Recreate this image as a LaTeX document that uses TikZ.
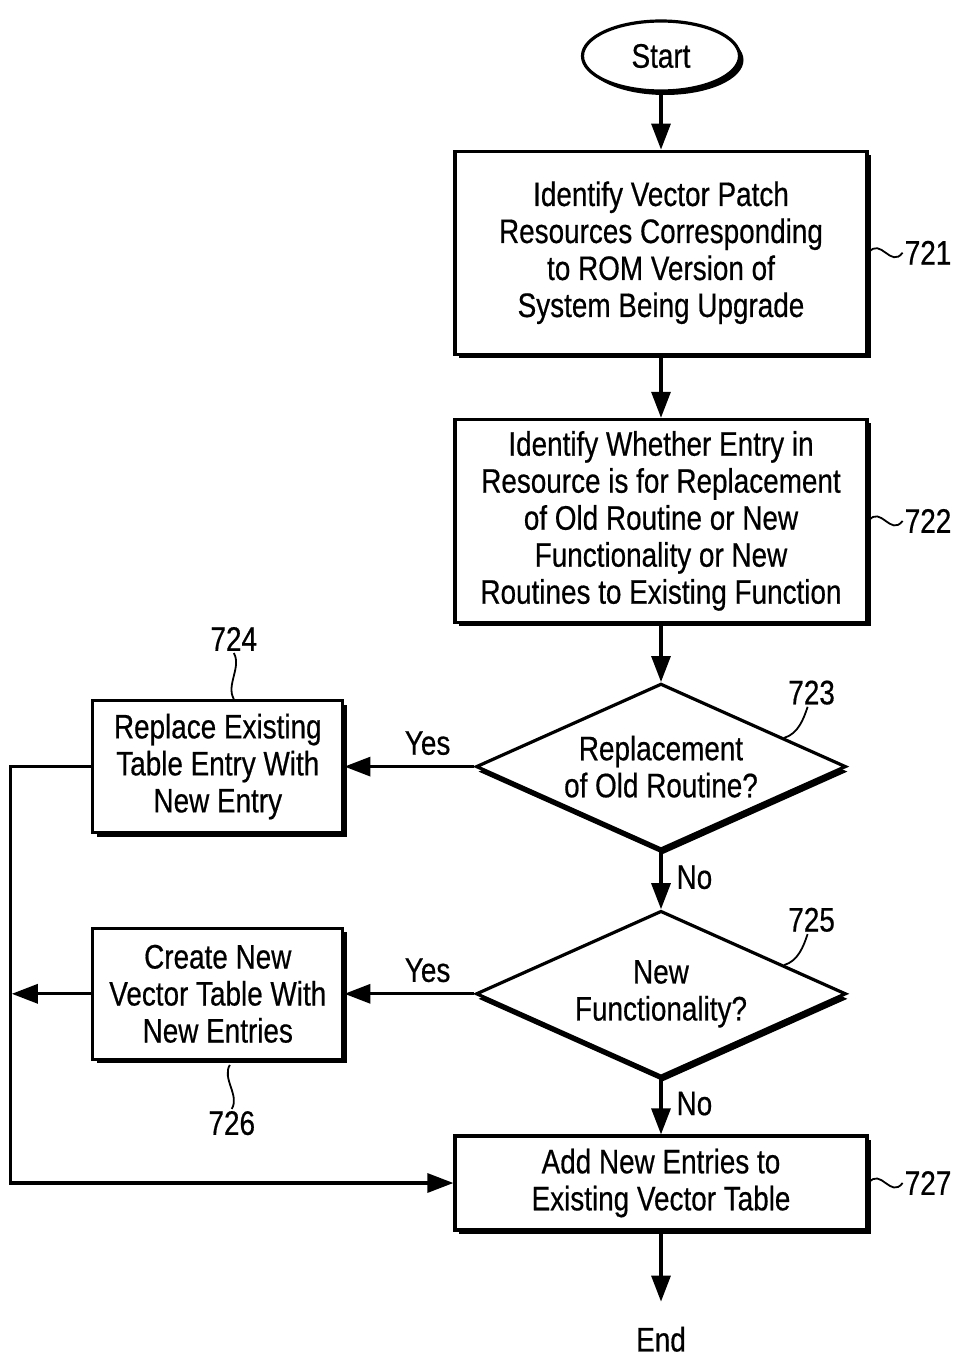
\documentclass[tikz,border=0pt]{standalone}
\usepackage{fontspec}
\setmainfont{Liberation Sans}[FakeStretch=0.82, FakeBold=0.5]
\usetikzlibrary{positioning, arrows.meta, shapes.geometric, calc, shadows}
\newcommand{\chartfont}{\fontsize{34}{37}\selectfont}

\begin{document}
\begin{tikzpicture}[
  x=1pt, y=1pt,
  every node/.style={font=\chartfont},
  hshadow/.style={drop shadow={shadow xshift=4pt, shadow yshift=-4pt, fill=black, opacity=1}},
  term/.style={ellipse, draw, line width=3.2pt, fill=white, minimum width=157pt,
               minimum height=70pt, inner sep=0pt, hshadow},
  proc/.style={rectangle, draw, line width=3.2pt, fill=white, minimum width=412pt,
               align=center, inner sep=0pt, hshadow},
  sideproc/.style={proc, minimum width=250pt, minimum height=132pt},
  decide/.style={diamond, draw, line width=3.2pt, fill=white, minimum width=370pt,
                 minimum height=166pt, aspect=2.2, inner sep=0pt, align=center,
                 drop shadow={shadow xshift=2pt, shadow yshift=-5pt, fill=black, opacity=1}},
  arr/.style={-{Triangle[length=26pt, width=19pt]}, line width=3.2pt},
  lbl/.style={inner sep=5pt},
  ref/.style={inner sep=2pt},
  squig/.style={line width=1.8pt},
]

\useasboundingbox (0,0) rectangle (958,-1360);

% main column
\node[term] (start) at (661,-56) {Start};
\node[proc, minimum height=203pt, below=57pt of start] (b721)
  {Identify Vector Patch\\Resources Corresponding\\to ROM Version of\\System Being Upgrade};
\node[proc, minimum height=203pt, below=62pt of b721] (b722)
  {Identify Whether Entry in\\Resource is for Replacement\\of Old Routine or New\\Functionality or New\\Routines to Existing Function};
\node[decide, below=58pt of b722] (d723) {Replacement\\of Old Routine?};
\node[decide, below=58pt of d723] (d725) {New\\Functionality?};
\node[proc, minimum height=94pt, below=56pt of d725] (b727)
  {Add New Entries to\\Existing Vector Table};
\node[inner sep=2pt, below=93pt of b727] (end) {End};

% side branch
\node[sideproc, left=130pt of d723] (b724) {Replace Existing\\Table Entry With\\New Entry};
\node[sideproc, minimum height=131pt, left=130pt of d725] (b726) {Create New\\Vector Table With\\New Entries};

% reference numerals
\node[ref, right=34pt of b721] (n721) {721};
\draw[squig] (b721.east) .. controls +(12pt,16pt) and +(-12pt,-16pt) .. (n721.west);
\node[ref, right=34pt of b722] (n722) {722};
\draw[squig] (b722.east) .. controls +(12pt,16pt) and +(-12pt,-16pt) .. (n722.west);
\node[ref, right=34pt of b727] (n727) {727};
\draw[squig] (b727.east) .. controls +(12pt,16pt) and +(-12pt,-16pt) .. (n727.west);

\coordinate (e723) at ($(d723.north)!0.66!(d723.east)$);
\node[ref, above right=31pt and 2pt of e723] (n723) {723};
\draw[squig] (e723) .. controls +(14pt,4pt) and +(-4pt,-12pt) .. ([xshift=-4pt]n723.south);
\coordinate (e725) at ($(d725.north)!0.66!(d725.east)$);
\node[ref, above right=31pt and 2pt of e725] (n725) {725};
\draw[squig] (e725) .. controls +(14pt,4pt) and +(-4pt,-12pt) .. ([xshift=-4pt]n725.south);

\node[ref, above=46pt of b724, xshift=16pt] (n724) {724};
\draw[squig] (n724.south) .. controls +(8pt,-14pt) and +(-8pt,14pt) .. ($(b724.north)+(16pt,0)$);
\node[ref, below=48pt of b726, xshift=14pt] (n726) {726};
\draw[squig] ($(b726.south)+(12pt,-4pt)$) .. controls +(-8pt,-14pt) and +(8pt,14pt) .. (n726.north);

% flow
\draw[arr] (start) -- (b721);
\draw[arr] (b721) -- (b722);
\draw[arr] (b722) -- (d723);
\draw[arr] (d723) -- node[lbl, right, pos=0.45, xshift=9pt] {No} (d725);
\draw[arr] (d725) -- node[lbl, right, pos=0.45, xshift=9pt] {No} (b727);
\draw[arr] (d723) -- node[lbl, above, pos=0.36, yshift=5pt] {Yes} (b724);
\draw[arr] (d725) -- node[lbl, above, pos=0.36, yshift=5pt] {Yes} (b726);
\draw[arr, shorten >=23pt] (b727) -- (end);

% return rail on the left
\coordinate (railtop) at ($(b724.west)+(-81pt,0)$);
\coordinate (railbot) at (railtop |- b727.west);
\draw[arr] (b724.west) -- (railtop) -- (railbot) -- (b727.west);
\draw[arr, shorten >=1.6pt] (b726.west) -- (b726.west -| railtop);

\end{tikzpicture}
\end{document}
